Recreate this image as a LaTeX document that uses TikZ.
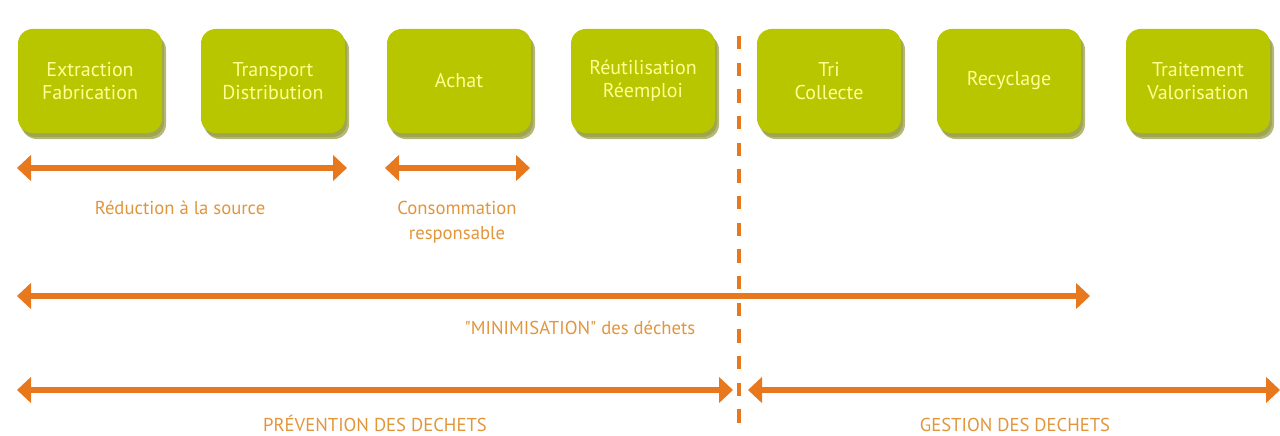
\documentclass[tikz,border=0pt]{standalone}
\usepackage{fontspec}
\setmainfont{PT Sans}
\usetikzlibrary{arrows.meta}
\definecolor{boxgreen}{RGB}{184,198,0}
\definecolor{boxshadow}{RGB}{120,128,10}
\definecolor{boxtext}{RGB}{255,255,150}
\definecolor{arroworange}{RGB}{232,120,30}
\definecolor{labelorange}{RGB}{226,150,60}
\tikzset{
  stagebox/.style={draw=none, fill=boxgreen, rounded corners=11pt, minimum width=108pt, minimum height=78pt,
    align=center, text=boxtext, font=\fontsize{15}{17.5}\selectfont, inner sep=0pt},
  stageshadow/.style={fill=boxshadow, rounded corners=11pt, minimum width=108pt, minimum height=78pt, draw=none, opacity=0.55},
  span/.style={draw=arroworange, line width=4.2pt, {Triangle[width=19pt,length=10.5pt]}-{Triangle[width=19pt,length=10.5pt]}},
  spanlabel/.style={text=labelorange, font=\fontsize{14}{18.5}\selectfont, align=center, inner sep=0pt},
  divider/.style={draw=arroworange, line width=3pt, dash pattern=on 10pt off 10pt}
}
\begin{document}
\begin{tikzpicture}[x=0.75pt, y=-0.75pt]
\useasboundingbox[fill=white] (0,0) rectangle (1280,435);
% shadows
\foreach \cx in {90,273,459,643,829,1009,1198}{
  \node[stageshadow] at (\cx+4,87) {};
  \node[stageshadow, opacity=0.35] at (\cx+2,85) {};
}
\node[stagebox] (b1) at (90,81) {Extraction\\Fabrication};
\node[stagebox] (b2) at (273,81) {Transport\\Distribution};
\node[stagebox] (b3) at (459,81) {Achat};
\node[stagebox] (b4) at (643,81) {Réutilisation\\Réemploi};
\node[stagebox] (b5) at (829,81) {Tri\\Collecte};
\node[stagebox] (b6) at (1009,81) {Recyclage};
\node[stagebox] (b7) at (1198,81) {Traitement\\Valorisation};
% divider
\coordinate (d1) at (739,36);
\coordinate (d2) at (739,440);
\draw[divider] (d1) -- (d2);
% arrows
\coordinate (a1l) at (17,168); \coordinate (a1r) at (347,168);
\coordinate (a2l) at (385,168); \coordinate (a2r) at (530,168);
\coordinate (a3l) at (17,296); \coordinate (a3r) at (1090,296);
\coordinate (a4l) at (17,390); \coordinate (a4r) at (733,390);
\coordinate (a5l) at (748,390); \coordinate (a5r) at (1280,390);
\draw[span] (a1l) -- (a1r);
\draw[span] (a2l) -- (a2r);
\draw[span] (a3l) -- (a3r);
\draw[span] (a4l) -- (a4r);
\draw[span] (a5l) -- (a5r);
% labels
\node[spanlabel] (l1) at (180,208) {Réduction à la source};
\node[spanlabel] (l2) at (457,222) {Consommation\\responsable};
\node[spanlabel] (l3) at (580,328) {\textquotedbl MINIMISATION\textquotedbl{} des déchets};
\node[spanlabel, anchor=base] (l4) at (375,431) {PRÉVENTION DES DECHETS};
\node[spanlabel, anchor=base] (l5) at (1015,431) {GESTION DES DECHETS};
\end{tikzpicture}
\end{document}
